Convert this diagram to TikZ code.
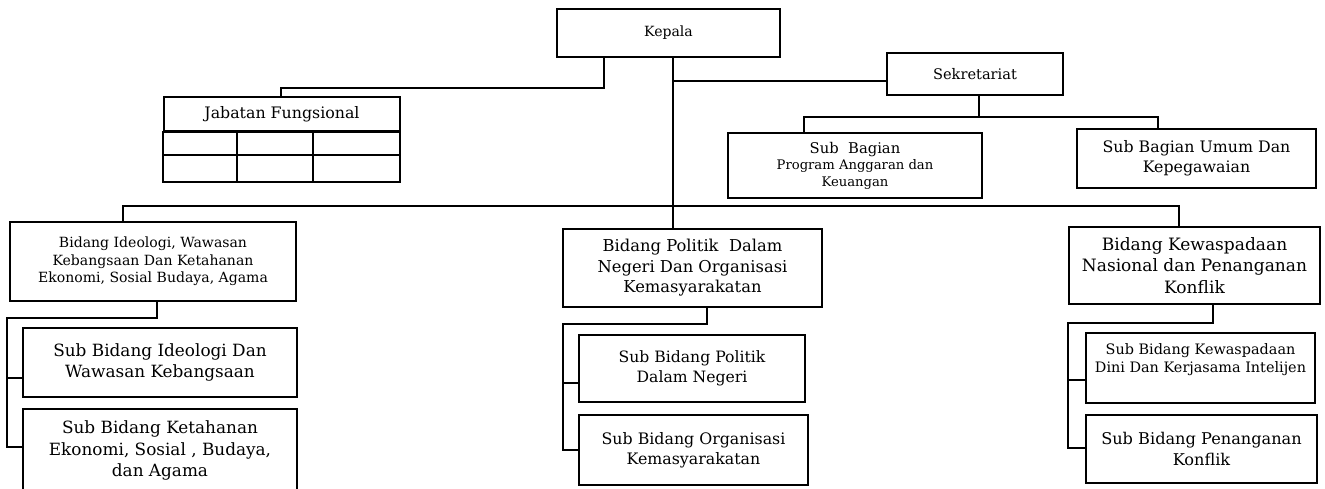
\documentclass[tikz,border=0pt]{standalone}
\usepackage{fontspec}
\setmainfont{DejaVu Serif}
\usepackage{tikz}

\tikzset{
  box/.style={draw, line width=1.2pt, inner sep=0pt, align=center},
  conn/.style={line width=1.2pt},
}
\newcommand{\fsz}[1]{\fontsize{#1}{1.25\dimexpr #1pt\relax}\selectfont}

\begin{document}
\begin{tikzpicture}[x=0.02cm,y=-0.02cm]
\useasboundingbox (0,0) rectangle (1325,488);

% top level
\node[box, minimum width=4.46cm, minimum height=0.96cm, font=\fsz{8}] (kepala) at (668.5,33) {Kepala};
\node[box, minimum width=3.52cm, minimum height=0.84cm, font=\fsz{8.3}] (sekretariat) at (975,74) {Sekretariat};

% jabatan fungsional table
\node[box, minimum width=4.72cm, minimum height=0.68cm, font=\fsz{9}] (jabatan) at (282,114) {Jabatan Fungsional};
\draw[conn] (jabatan.south west) rectangle (400,182);
\draw[conn] (164,155) -- (400,155);
\draw[conn] (237,131) -- (237,182);
\draw[conn] (313,131) -- (313,182);

% sekretariat
\node[box, minimum width=5.08cm, minimum height=1.3cm, font=\fsz{7.5}] (subprog) at (855,165.5) {{\fsz{8.4}Sub\ \ Bagian}\\Program Anggaran dan\\Keuangan};
\node[box, minimum width=4.78cm, minimum height=1.18cm, font=\fsz{9}] (subumum) at (1196.5,158.5) {Sub Bagian Umum Dan\\Kepegawaian};

% bidang
\node[box, minimum width=5.72cm, minimum height=1.58cm, font=\fsz{8}] (bidideo) at (153,261.5) {Bidang Ideologi, Wawasan\\Kebangsaan Dan Ketahanan\\Ekonomi, Sosial Budaya, Agama};
\node[box, minimum width=5.18cm, minimum height=1.56cm, font=\fsz{9.3}] (bidpol) at (692.5,268) {Bidang Politik\ \ Dalam\\Negeri Dan Organisasi\\Kemasyarakatan};
\node[box, minimum width=5.02cm, minimum height=1.54cm, font=\fsz{9.7}] (bidkew) at (1194.5,265.5) {Bidang Kewaspadaan\\Nasional dan Penanganan\\Konflik};

% sub bidang
\node[box, minimum width=5.48cm, minimum height=1.38cm, font=\fsz{9.6}] (subideo) at (160,362.5) {Sub Bidang Ideologi Dan\\Wawasan Kebangsaan};
\node[box, minimum width=5.48cm, minimum height=1.66cm, font=\fsz{9.6}] (subtahan) at (160,450.5) {Sub Bidang Ketahanan\\Ekonomi, Sosial , Budaya,\\dan Agama};
\node[box, minimum width=4.52cm, minimum height=1.34cm, font=\fsz{8.9}] (subpoldn) at (692,368.5) {Sub Bidang Politik\\Dalam Negeri};
\node[box, minimum width=4.58cm, minimum height=1.4cm, font=\fsz{9}] (suborg) at (693.5,450) {Sub Bidang Organisasi\\Kemasyarakatan};
\node[box, minimum width=4.58cm, minimum height=1.4cm, font=\fsz{8.2}] (subkew) at (1200.5,368) {Sub Bidang Kewaspadaan\\Dini Dan Kerjasama Intelijen\\[1pt]\mbox{}};
\node[box, minimum width=4.62cm, minimum height=1.36cm, font=\fsz{9.2}] (subpen) at (1201.5,449) {Sub Bidang Penanganan\\Konflik};

% bend points
\coordinate (spine) at (673,206);
\coordinate (busL) at (123,206);
\coordinate (busR) at (1179,206);
\coordinate (jfk) at (604,88);
\coordinate (jfbend) at (281,88);
\coordinate (sek) at (673,81);
\coordinate (sekbus) at (979,117);
\coordinate (sekL) at (804,117);
\coordinate (sekR) at (1158,117);
\coordinate (ideoT) at (157,318);
\coordinate (ideoL) at (7,318);
\coordinate (polT) at (707,324);
\coordinate (polL) at (563,324);
\coordinate (kewT) at (1213,323);
\coordinate (kewL) at (1068,323);

% connectors
\draw[conn] (kepala.south -| spine) -- (spine |- bidpol.north);
\draw[conn] (bidideo.north -| busL) -- (busL) -- (busR) -- (bidkew.north -| busR);
\draw[conn] (kepala.south -| jfk) -- (jfk) -- (jfbend) -- (jfbend |- jabatan.north);
\draw[conn] (sek) -- (sek -| sekretariat.west);
\draw[conn] (sekretariat.south -| sekbus) -- (sekbus);
\draw[conn] (subprog.north -| sekL) -- (sekL) -- (sekR) -- (subumum.north -| sekR);

\draw[conn] (bidideo.south -| ideoT) -- (ideoT) -- (ideoL) -- (ideoL |- 0,447) -- (subtahan.west |- 0,447);
\draw[conn] (ideoL |- 0,378) -- (subideo.west |- 0,378);
\draw[conn] (bidpol.south -| polT) -- (polT) -- (polL) -- (polL |- 0,450) -- (suborg.west |- 0,450);
\draw[conn] (polL |- 0,383) -- (subpoldn.west |- 0,383);
\draw[conn] (bidkew.south -| kewT) -- (kewT) -- (kewL) -- (kewL |- 0,448) -- (subpen.west |- 0,448);
\draw[conn] (kewL |- 0,380) -- (subkew.west |- 0,380);
\end{tikzpicture}
\end{document}
